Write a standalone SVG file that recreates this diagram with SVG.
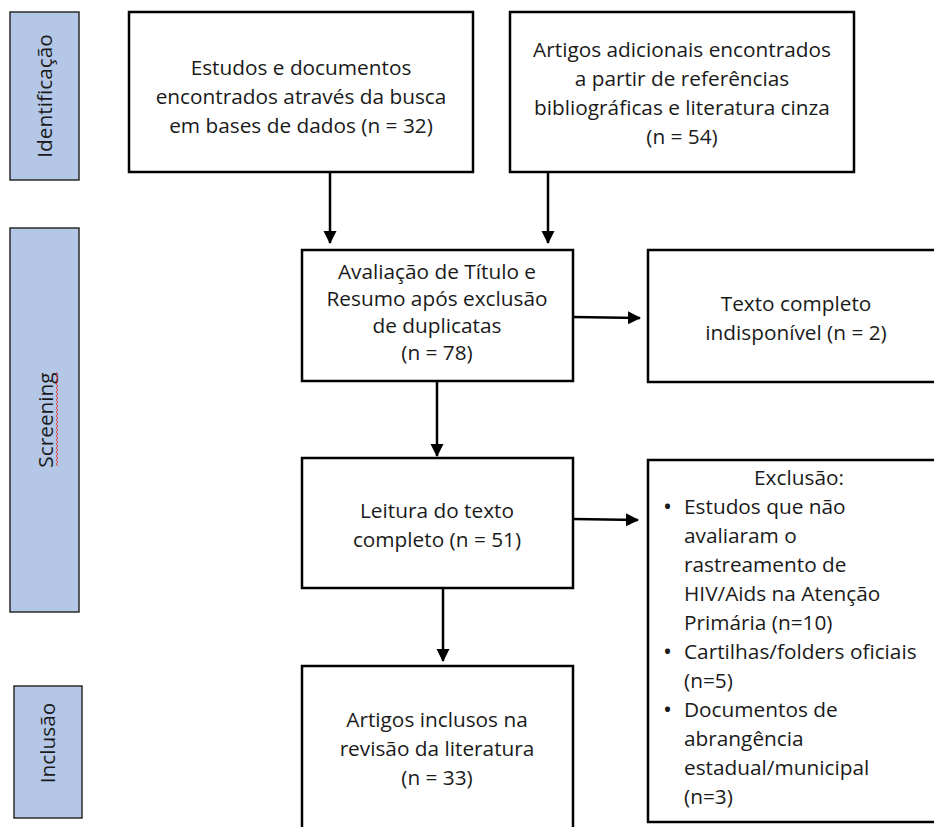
<svg xmlns="http://www.w3.org/2000/svg" width="934" height="827" viewBox="0 0 934 827">
<defs>
<marker id="ah" markerUnits="userSpaceOnUse" markerWidth="14" markerHeight="14" refX="12" refY="6.5" orient="auto">
<path d="M0,0 L13,6.5 L0,13 Z" fill="#000"/>
</marker>
<style>
.box{fill:#fff;stroke:#000;stroke-width:2.5}
.lab{fill:#b4c7e7;stroke:#2b2b2b;stroke-width:1.5}
.t{font-family:"Open Sans","Liberation Sans",sans-serif;font-size:20.8px;fill:#1a1a1a}
.c{text-anchor:middle}
.b{font-size:24px}
.con{stroke:#000;stroke-width:2.5;fill:none;marker-end:url(#ah)}
</style>
</defs>
<rect x="0" y="0" width="934" height="827" fill="#fff"/>

<g id="lab-identificacao">
<rect class="lab" x="10" y="12" width="69" height="168"/>
<text class="t c" transform="translate(52,96) rotate(-90)">Identificação</text>
</g>
<g id="lab-screening">
<rect class="lab" x="10" y="228" width="69" height="384"/>
<text class="t c" transform="translate(53,420) rotate(-90)">Screening</text>
<path d="M56,372 l2,2 l-2,2 l2,2 l-2,2 l2,2 l-2,2 l2,2 l-2,2 l2,2 l-2,2 l2,2 l-2,2 l2,2 l-2,2 l2,2 l-2,2 l2,2 l-2,2 l2,2 l-2,2 l2,2 l-2,2 l2,2 l-2,2 l2,2 l-2,2 l2,2 l-2,2 l2,2 l-2,2 l2,2 l-2,2 l2,2 l-2,2 l2,2 l-2,2 l2,2 l-2,2 l2,2 l-2,2 l2,2 l-2,2 l2,2 l-2,2 l2,2 l-2,2 l2,2" fill="none" stroke="#e04040" stroke-width="1"/>
</g>
<g id="lab-inclusao">
<rect class="lab" x="14" y="686" width="68" height="132"/>
<text class="t c" transform="translate(55,743) rotate(-90)">Inclusão</text>
</g>

<g id="n-estudos">
<rect class="box" x="129" y="12" width="344" height="160"/>
<text class="t c" x="301" y="75">Estudos e documentos</text>
<text class="t c" x="301" y="104">encontrados através da busca</text>
<text class="t c" x="301" y="133">em bases de dados (n = 32)</text>
</g>
<g id="n-adicionais">
<rect class="box" x="510" y="12" width="344" height="160"/>
<text class="t c" x="682" y="57">Artigos adicionais encontrados</text>
<text class="t c" x="682" y="86">a partir de referências</text>
<text class="t c" x="682" y="115">bibliográficas e literatura cinza</text>
<text class="t c" x="682" y="144">(n = 54)</text>
</g>
<g id="n-avaliacao">
<rect class="box" x="302" y="250" width="271" height="131"/>
<text class="t c" x="437" y="279">Avaliação de Título e</text>
<text class="t c" x="437" y="306">Resumo após exclusão</text>
<text class="t c" x="437" y="333">de duplicatas</text>
<text class="t c" x="437" y="360">(n = 78)</text>
</g>
<g id="n-indisponivel">
<rect class="box" x="648" y="250" width="300" height="132"/>
<text class="t c" x="796" y="311">Texto completo</text>
<text class="t c" x="796" y="340">indisponível (n = 2)</text>
</g>
<g id="n-leitura">
<rect class="box" x="302" y="458" width="271" height="130"/>
<text class="t c" x="437" y="518">Leitura do texto</text>
<text class="t c" x="437" y="547">completo (n = 51)</text>
</g>
<g id="n-exclusao">
<rect class="box" x="648" y="460" width="300" height="362"/>
<text class="t c" x="799" y="485">Exclusão:</text>
<text class="t b" x="663" y="515">•</text>
<text class="t" x="684" y="514">Estudos que não</text>
<text class="t" x="684" y="543">avaliaram o</text>
<text class="t" x="684" y="572">rastreamento de</text>
<text class="t" x="684" y="601">HIV/Aids na Atenção</text>
<text class="t" x="684" y="630">Primária (n=10)</text>
<text class="t b" x="663" y="660">•</text>
<text class="t" x="684" y="659">Cartilhas/folders oficiais</text>
<text class="t" x="684" y="688">(n=5)</text>
<text class="t b" x="663" y="718">•</text>
<text class="t" x="684" y="717">Documentos de</text>
<text class="t" x="684" y="746">abrangência</text>
<text class="t" x="684" y="775">estadual/municipal</text>
<text class="t" x="684" y="804">(n=3)</text>
</g>
<g id="n-inclusos">
<rect class="box" x="302" y="666" width="271" height="170"/>
<text class="t c" x="437" y="727">Artigos inclusos na</text>
<text class="t c" x="437" y="756">revisão da literatura</text>
<text class="t c" x="437" y="785">(n = 33)</text>
</g>

<g id="connectors">
<line class="con" x1="330" y1="172" x2="330" y2="243"/>
<line class="con" x1="548" y1="172" x2="548" y2="243"/>
<line class="con" x1="573" y1="317" x2="640" y2="318"/>
<line class="con" x1="437" y1="381" x2="437" y2="456"/>
<line class="con" x1="573" y1="519" x2="638" y2="520"/>
<line class="con" x1="443" y1="588" x2="443" y2="661"/>
</g>
</svg>
